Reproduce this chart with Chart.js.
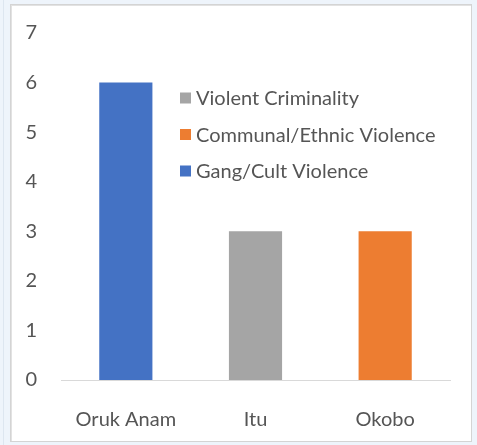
<!DOCTYPE html>
<html>
<head>
<meta charset="utf-8">
<script src="https://cdn.jsdelivr.net/npm/chart.js@4"></script>
<style>
  html, body { margin: 0; padding: 0; background: #eef4fb; }
  #box {
    position: absolute; left: 10px; top: 4px;
    width: 460px; height: 436px;
    background: #fff; border: 1px solid #d4d4d4;
    box-shadow: inset 1px 1px 0 #e2e2e2;
  }
  #strip { position: absolute; left: 3px; top: 0; width: 1px; height: 445px; background: #dde6f0; }
</style>
</head>
<body>
<div id="strip"></div>
<div id="box"><canvas id="chart" width="460" height="436"></canvas></div>
<script>
// Dados
const categories = ['Oruk Anam', 'Itu', 'Okobo'];
const violentCriminality = [null, 3, null];
const communalEthnic = [null, null, 3];
const gangCult = [6, null, null];
const yTicks = [0, 1, 2, 3, 4, 5, 6, 7];

const textColor = '#555555';
const fontFamily = 'Lato, "Liberation Sans", sans-serif';

// Legenda dentro da área do gráfico
const insideLegend = {
    id: 'insideLegend',
    afterDraw(chart) {
        const c = chart.ctx;
        const left = chart.chartArea.left + 119;
        const top = chart.chartArea.top + 65;
        c.save();
        c.font = '20px ' + fontFamily;
        c.textBaseline = 'middle';
        chart.data.datasets.forEach((ds, i) => {
            const y = top + i * 36.5;
            c.fillStyle = ds.backgroundColor;
            c.fillRect(left, y - 5.5, 11, 11);
            c.fillStyle = textColor;
            c.fillText(ds.label, left + 16, y + 1);
        });
        c.restore();
    }
};

const config = {
    type: 'bar',
    data: {
        labels: categories,
        datasets: [
            { label: 'Violent Criminality', data: violentCriminality, backgroundColor: '#A5A5A5' },
            { label: 'Communal/Ethnic Violence', data: communalEthnic, backgroundColor: '#ED7D31' },
            { label: 'Gang/Cult Violence', data: gangCult, backgroundColor: '#4472C4' }
        ]
    },
    options: {
        responsive: false,
        animation: false,
        categoryPercentage: 0.41,
        barPercentage: 1,
        layout: { padding: { top: 28, right: 21, bottom: 0, left: 0 } },
        plugins: {
            legend: { display: false },
            tooltip: { enabled: false }
        },
        scales: {
            x: {
                stacked: true,
                grid: { display: false },
                border: { display: true, color: '#d9d9d9', width: 1 },
                ticks: { color: textColor, font: { family: fontFamily, size: 20 }, padding: 20 },
                afterFit(scale) { scale.height = 61; }
            },
            y: {
                stacked: true,
                min: 0,
                max: 7,
                grid: { display: false },
                border: { display: false },
                afterBuildTicks(scale) { scale.ticks = yTicks.map(v => ({ value: v })); },
                ticks: { color: textColor, font: { family: fontFamily, size: 20 }, padding: 16 },
                afterFit(scale) { scale.width = 50; }
            }
        }
    },
    plugins: [insideLegend]
};

const ctx = document.getElementById('chart').getContext('2d');
new Chart(ctx, config);
</script>
</body>
</html>
